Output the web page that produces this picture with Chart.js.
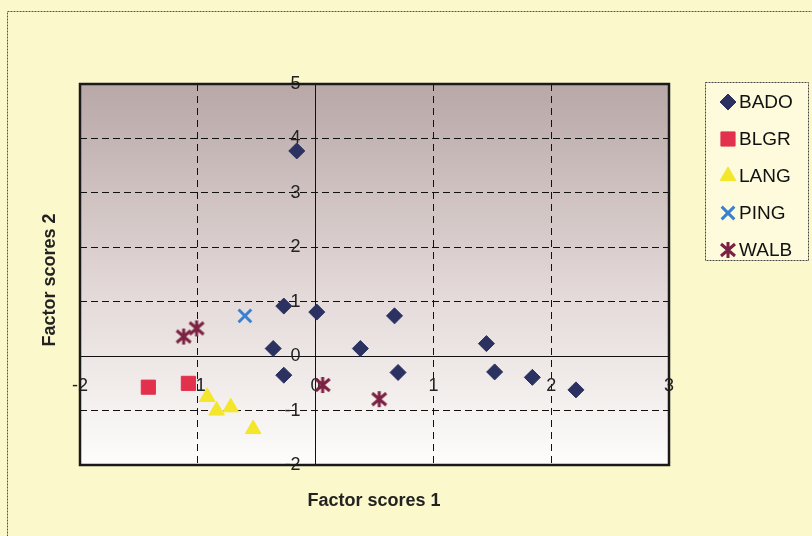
<!DOCTYPE html>
<html>
<head>
<meta charset="utf-8">
<script src="https://cdn.jsdelivr.net/npm/chart.js@4/dist/chart.umd.min.js"></script>
<style>
  html, body { margin: 0; padding: 0; background: #fbf8cc; }
  canvas { display: block; }
</style>
</head>
<body>
<canvas id="scatter" width="812" height="536"></canvas>
<script>
// values
const seriesNames = ['BADO', 'BLGR', 'LANG', 'PING', 'WALB'];
const badoX = [-0.16, -0.27, 0.01, -0.36, -0.27, 0.38, 0.67, 0.70, 1.45, 1.52, 1.84, 2.21];
const badoY = [3.77, 0.92, 0.81, 0.14, -0.35, 0.14, 0.74, -0.30, 0.23, -0.29, -0.39, -0.62];
const blgrX = [-1.42, -1.08];
const blgrY = [-0.57, -0.50];
const langX = [-0.92, -0.84, -0.72, -0.53];
const langY = [-0.75, -1.00, -0.94, -1.34];
const pingX = [-0.60];
const pingY = [0.74];
const walbX = [-1.12, -1.01, 0.06, 0.54];
const walbY = [0.36, 0.51, -0.53, -0.79];
const xTicks = [-2, -1, 0, 1, 2, 3];
const yTicks = [-2, -1, 0, 1, 2, 3, 4, 5];

function pts(xs, ys) {
    return xs.map((x, i) => ({ x: x, y: ys[i] }));
}

const fontName = '"Liberation Sans", Arial, sans-serif';

// Excel style asterisk (X with a vertical bar) as a point image
function asterisk(color) {
    const c = document.createElement('canvas');
    c.width = 20; c.height = 20;
    const g = c.getContext('2d');
    g.strokeStyle = color;
    g.lineWidth = 3;
    g.lineCap = 'butt';
    g.beginPath();
    g.moveTo(3, 4); g.lineTo(17, 16);
    g.moveTo(17, 4); g.lineTo(3, 16);
    g.moveTo(10, 2); g.lineTo(10, 18);
    g.stroke();
    return c;
}
const walbIcon = asterisk('#7b2142');

// gradient plot area + frames
const backdrop = {
    id: 'backdrop',
    beforeDraw(chart) {
        const ctx = chart.ctx;
        const a = chart.chartArea;
        ctx.save();
        ctx.strokeStyle = '#555';
        ctx.lineWidth = 1;
        ctx.setLineDash([2, 1]);
        ctx.strokeRect(7.5, 11.5, 900, 600);
        ctx.setLineDash([]);
        const g = ctx.createLinearGradient(0, a.top, 0, a.bottom);
        g.addColorStop(0, '#b8a8a7');
        g.addColorStop(0.55, '#e3d9d8');
        g.addColorStop(1, '#fdfdfb');
        ctx.fillStyle = g;
        ctx.fillRect(a.left, a.top, a.right - a.left, a.bottom - a.top);
        ctx.restore();
    },
    afterDraw(chart) {
        const ctx = chart.ctx;
        const a = chart.chartArea;
        ctx.save();
        ctx.strokeStyle = '#1a1a1a';
        ctx.lineWidth = 2.5;
        ctx.strokeRect(a.left, a.top, a.right - a.left, a.bottom - a.top);

        // axis titles
        ctx.fillStyle = '#222';
        ctx.font = 'bold 18px ' + fontName;
        ctx.textAlign = 'center';
        ctx.textBaseline = 'middle';
        ctx.fillText('Factor scores 1', 374, 501);
        ctx.translate(50, 280);
        ctx.rotate(-Math.PI / 2);
        ctx.fillText('Factor scores 2', 0, 0);
        ctx.restore();

        // legend
        ctx.save();
        ctx.fillStyle = '#fdfbdc';
        ctx.fillRect(705, 82, 103, 178);
        ctx.strokeStyle = '#444';
        ctx.lineWidth = 1;
        ctx.setLineDash([2, 1]);
        ctx.strokeRect(705.5, 82.5, 103, 178);
        ctx.setLineDash([]);
        ctx.font = '19px ' + fontName;
        ctx.textAlign = 'left';
        ctx.textBaseline = 'middle';
        chart.data.datasets.forEach((ds, i) => {
            const y = 102 + i * 37;
            ctx.fillStyle = ds.backgroundColor;
            ctx.strokeStyle = ds.borderColor;
            ctx.lineWidth = ds.pointBorderWidth;
            Chart.helpers.drawPoint(ctx, {
                pointStyle: ds.pointStyle,
                radius: ds.pointRadius,
                borderWidth: ds.pointBorderWidth,
                rotation: 0
            }, 728, y);
            ctx.fillStyle = '#111';
            ctx.fillText(ds.label, 739, y + 1);
        });
        ctx.restore();
    }
};

function edge(vals) {
    return ctx => (ctx.tick && (ctx.tick.value === vals[0] || ctx.tick.value === vals[vals.length - 1])) ? 'rgba(0,0,0,0)' : '#111';
}

new Chart(document.getElementById('scatter'), {
    type: 'scatter',
    data: {
        datasets: [
            { label: seriesNames[0], data: pts(badoX, badoY), pointStyle: 'rectRot', pointRadius: 8,
              backgroundColor: '#2b3160', borderColor: '#2b3160', pointBorderWidth: 1 },
            { label: seriesNames[1], data: pts(blgrX, blgrY), pointStyle: 'rect', pointRadius: 10,
              backgroundColor: '#e3304c', borderColor: '#e3304c', pointBorderWidth: 1 },
            { label: seriesNames[2], data: pts(langX, langY), pointStyle: 'triangle', pointRadius: 9,
              backgroundColor: '#f4e62a', borderColor: '#f4e62a', pointBorderWidth: 1 },
            { label: seriesNames[3], data: pts(pingX, pingY), pointStyle: 'crossRot', pointRadius: 9,
              backgroundColor: '#3a80d2', borderColor: '#3a80d2', pointBorderWidth: 3 },
            { label: seriesNames[4], data: pts(walbX, walbY), pointStyle: walbIcon, pointRadius: 9,
              backgroundColor: '#7b2142', borderColor: '#7b2142', pointBorderWidth: 3 }
        ]
    },
    options: {
        responsive: false,
        animation: false,
        layout: { padding: { left: 80, top: 84, right: 143, bottom: 71 } },
        plugins: { legend: { display: false }, tooltip: { enabled: false } },
        scales: {
            x: {
                type: 'linear',
                min: -2, max: 3,
                position: { y: 0 },
                afterBuildTicks: s => { s.ticks = xTicks.map(v => ({ value: v })); },
                grid: { color: edge(xTicks), lineWidth: 1, tickLength: 0 },
                border: { display: true, color: '#111', width: 1,
                          dash: ctx => (ctx.tick && ctx.tick.value === 0) ? [] : [7, 5] },
                ticks: { color: '#222', font: { family: fontName, size: 18 }, padding: 19, maxRotation: 0 }
            },
            y: {
                type: 'linear',
                min: -2, max: 5,
                position: { x: 0 },
                afterBuildTicks: s => { s.ticks = yTicks.map(v => ({ value: v })); },
                grid: { color: edge(yTicks), lineWidth: 1, tickLength: 0 },
                border: { display: true, color: '#111', width: 1,
                          dash: ctx => (ctx.tick && ctx.tick.value === 0) ? [] : [7, 4] },
                // labels sit right-aligned on the axis line; trailing spaces push them left
                ticks: { color: '#222', font: { family: fontName, size: 18 },
                         callback: v => v + '   ' }
            }
        }
    },
    plugins: [backdrop]
});
</script>
</body>
</html>
